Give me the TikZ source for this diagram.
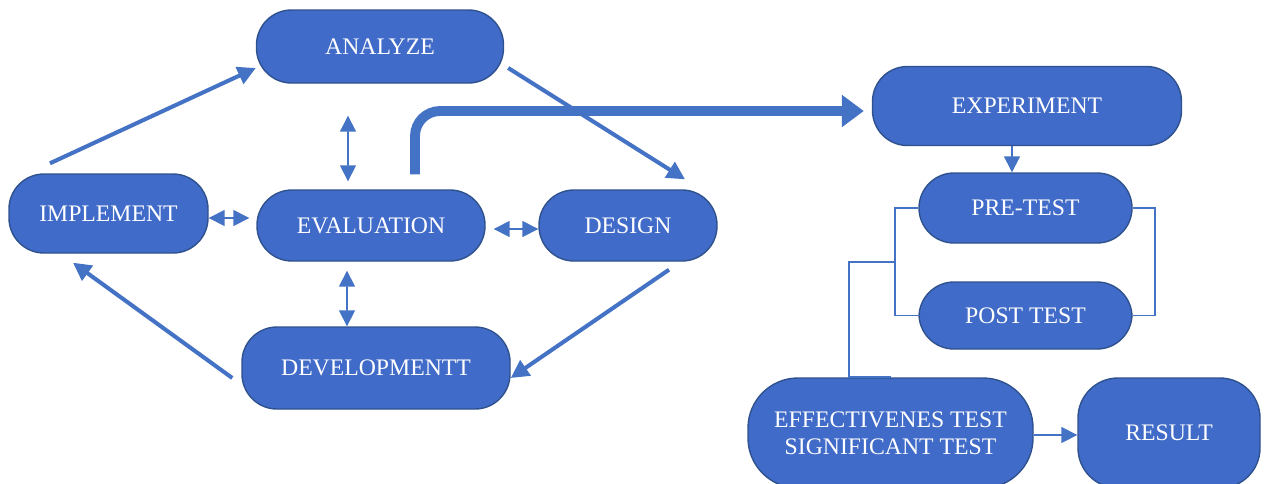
\documentclass[tikz,border=0pt]{standalone}
\usepackage{fontspec}
\setmainfont{Liberation Serif}
\usetikzlibrary{arrows.meta}

\definecolor{boxblue}{RGB}{65,107,200}
\definecolor{boxedge}{RGB}{47,82,143}
\definecolor{lineblue}{RGB}{68,114,196}

\begin{document}
\begin{tikzpicture}[
  phase/.style={draw=boxedge, line width=0.8pt, fill=boxblue, text=white,
    rounded corners=0.7cm, inner sep=0pt, align=center,
    font=\fontsize{13.5}{15.5}\selectfont},
  cycle/.style={draw=lineblue, line width=2.3pt, -{Triangle[length=0.36cm, width=0.36cm]}},
  twoway/.style={draw=lineblue, line width=0.9pt, {Triangle[length=0.32cm, width=0.32cm]}-{Triangle[length=0.32cm, width=0.32cm]}},
  oneway/.style={draw=lineblue, line width=0.9pt, -{Triangle[length=0.32cm, width=0.32cm]}},
  link/.style={draw=lineblue, line width=1pt},
  bigarrow/.style={draw=lineblue, line width=5.6pt, rounded corners=0.5cm, -{Triangle[length=0.44cm, width=0.62cm]}}
]
  \useasboundingbox (0,0) rectangle (25.38,-9.66);

  % ADDIE cycle
  \node[phase, minimum width=4.94cm, minimum height=1.46cm] (analyze) at (7.6,-0.93) {ANALYZE};
  \node[phase, minimum width=3.98cm, minimum height=1.58cm] (implement) at (2.17,-4.27) {IMPLEMENT};
  \node[phase, minimum width=4.56cm, minimum height=1.42cm] (evaluation) at (7.42,-4.51) {EVALUATION};
  \node[phase, minimum width=3.56cm, minimum height=1.42cm] (design) at (12.56,-4.51) {DESIGN};
  \node[phase, minimum width=5.36cm, minimum height=1.64cm] (develop) at (7.52,-7.36) {DEVELOPMENTT};

  % experiment side
  \node[phase, minimum width=6.18cm, minimum height=1.58cm] (experiment) at (20.54,-2.12) {EXPERIMENT};
  \node[phase, minimum width=4.26cm, minimum height=1.40cm] (pretest) at (20.51,-4.16) {PRE-TEST};
  \node[phase, minimum width=4.26cm, minimum height=1.34cm] (posttest) at (20.51,-6.31) {POST TEST};
  \node[phase, minimum width=5.7cm, minimum height=2.2cm, rounded corners=1cm] (effect) at (17.81,-8.66) {EFFECTIVENES TEST\\SIGNIFICANT TEST};
  \node[phase, minimum width=3.64cm, minimum height=2.2cm, rounded corners=0.8cm] (result) at (23.38,-8.66) {RESULT};

  \path[cycle] ([xshift=-1.17cm, yshift=0.2cm]implement.north) -- ([yshift=-0.43cm]analyze.west);
  \path[cycle] ([xshift=0.08cm, yshift=-0.43cm]analyze.east) -- ([xshift=1.14cm, yshift=0.2cm]design.north);
  \path[cycle] ([xshift=0.82cm, yshift=-0.16cm]design.south) -- ([yshift=-0.2cm]develop.east);
  \path[cycle] ([xshift=-0.18cm, yshift=-0.2cm]develop.west) -- ([xshift=-0.71cm, yshift=-0.18cm]implement.south);

  \path[twoway] ([xshift=-0.46cm, yshift=0.16cm]evaluation.north) -- ([xshift=-0.64cm, yshift=-0.64cm]analyze.south);
  \path[twoway] ([xshift=-0.48cm, yshift=-0.18cm]evaluation.south) -- ([xshift=-0.58cm]develop.north);
  \path[twoway] ([yshift=-0.09cm]implement.east) -- ([xshift=-0.14cm, yshift=-0.09cm]implement.east -| evaluation.west);
  \path[twoway] ([xshift=0.16cm, yshift=-0.07cm]evaluation.east) -- ([yshift=-0.07cm]design.west);

  \path[bigarrow] ([xshift=0.88cm, yshift=0.3cm]evaluation.north) |- ([xshift=-0.16cm, yshift=-0.1cm]experiment.west);

  \path[oneway] ([xshift=-0.3cm]experiment.south) -- ([xshift=-0.3cm]experiment.south |- pretest.north);
  \path[link] (pretest.west) -- ++(-0.46,0) coordinate (lb) |- (posttest.west);
  \path[link] (pretest.east) -- ++(0.44,0) |- (posttest.east);
  \path (lb) -- (lb |- posttest.west) coordinate[pos=0.5] (split);
  \path[link] (split) -- ++(-0.92,0) |- (effect.north);
  \path[oneway] ([yshift=-0.04cm]effect.east) -- ([yshift=-0.04cm]effect.east -| result.west);
\end{tikzpicture}
\end{document}
